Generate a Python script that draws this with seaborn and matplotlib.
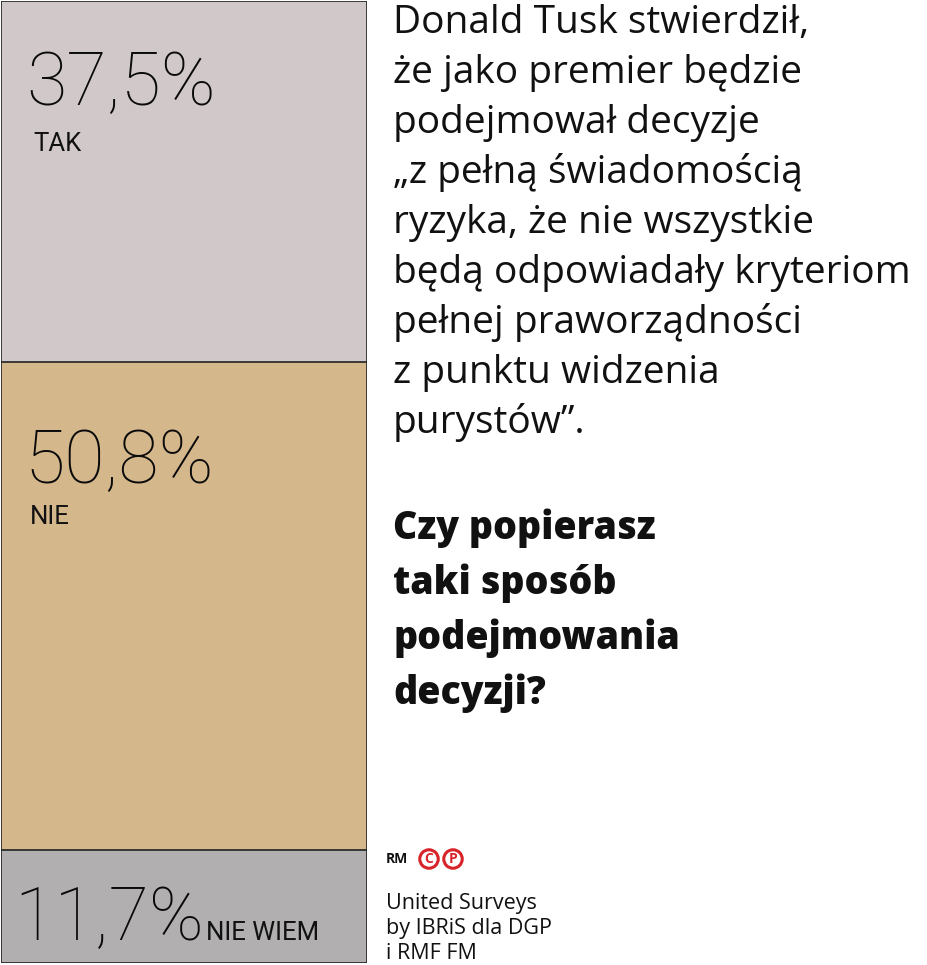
import numpy as np
import pandas as pd
import matplotlib
matplotlib.use("Agg")
import matplotlib.pyplot as plt
import seaborn as sns

# ---- data ----
categories = ["TAK", "NIE", "NIE WIEM"]
values = [37.5, 50.8, 11.7]
value_labels = ["37,5%", "50,8%", "11,7%"]
colors = ["#d1c9c9", "#d4b78b", "#b1afaf"]

quote_lines = [
    "Donald Tusk stwierdził,",
    "że jako premier będzie",
    "podejmował decyzje",
    "„z pełną świadomością",
    "ryzyka, że nie wszystkie",
    "będą odpowiadały kryteriom",
    "pełnej praworządności",
    "z punktu widzenia",
    "purystów”.",
]
question_lines = ["Czy popierasz", "taki sposób", "podejmowania", "decyzji?"]
source_lines = ["United Surveys", "by IBRiS dla DGP", "i RMF FM"]

sns.set_theme(style="white")
plt.rcParams["font.family"] = ["Open Sans", "DejaVu Sans"]

W, H = 927, 965
fig = plt.figure(figsize=(W / 100, H / 100), dpi=100)
fig.patch.set_facecolor("white")

# axes covering the stacked column (pixel geometry)
x0, x1, y0, y1 = 1, 367, 1, 963
ax = fig.add_axes([x0 / W, 1 - y1 / H, (x1 - x0) / W, (y1 - y0) / H])

cum = np.cumsum(values)
# draw from the largest cumulative down so each segment overlays the next
for i in reversed(range(len(categories))):
    sub = pd.DataFrame({"x": ["all"], "y": [cum[i]]})
    sns.barplot(data=sub, x="x", y="y", color=colors[i], saturation=1,
                width=1.0, edgecolor="#222222", linewidth=1.2, ax=ax)

ax.set_xlim(-0.5, 0.5)
ax.set_ylim(cum[-1], 0)
ax.set_axis_off()


def px(x, y):
    return x / W, 1 - y / H


num_kw = dict(family=["Roboto", "DejaVu Sans"], fontsize=53, fontweight="light",
              color="#0a0a0a", va="baseline", ha="left")
lab_kw = dict(family=["Roboto", "DejaVu Sans"], fontsize=18.5, fontweight="normal",
              color="#111111", va="baseline", ha="left")

fig.text(*px(26, 105), value_labels[0], **num_kw)
fig.text(*px(33, 151), categories[0], **lab_kw)
fig.text(*px(24, 483), value_labels[1], **num_kw)
fig.text(*px(30, 524), categories[1], **lab_kw)
fig.text(*px(14, 940), value_labels[2], **num_kw)
fig.text(*px(206, 940), categories[2], **lab_kw)

# quote
for k, line in enumerate(quote_lines):
    fig.text(*px(393, 33 + k * 50), line, fontsize=28, color="#111111",
             va="baseline", ha="left")

for k, line in enumerate(question_lines):
    fig.text(*px(393, 539 + k * 55), line, fontsize=27, fontweight="heavy",
             color="#111111", va="baseline", ha="left")

# footer
fig.text(*px(386, 863), "RM", fontsize=10, fontweight="bold", color="#111111",
         va="baseline", ha="left")
red = "#d9232a"
for cx, ch in [(429, "C"), (453, "P")]:
    fig.text(*px(cx, 859), ch, fontsize=10, fontweight="bold", color=red,
             ha="center", va="center",
             bbox=dict(boxstyle="circle,pad=0.16", fc="white", ec=red, lw=2.2))

for k, line in enumerate(source_lines):
    fig.text(*px(386, 909 + k * 25), line, fontsize=15.5, color="#111111",
             va="baseline", ha="left")

fig.savefig("out.png", dpi=100, facecolor="white")
